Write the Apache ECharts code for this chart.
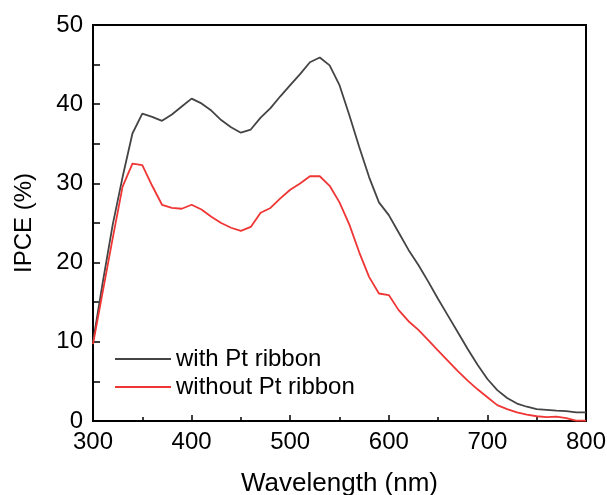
<!DOCTYPE html>
<html>
<head>
<meta charset="utf-8">
<script src="https://cdn.jsdelivr.net/npm/echarts@6/dist/echarts.min.js"></script>
<style>
html, body { margin: 0; padding: 0; background: #fff; }
#chart { width: 607px; height: 495px; }
</style>
</head>
<body>
<div id="chart"></div>
<script>
'use strict';

// wavelength (nm)
var wavelengths = [300, 310, 320, 330, 340, 350, 360, 370, 380, 390,
    400, 410, 420, 430, 440, 450, 460, 470, 480, 490,
    500, 510, 520, 530, 540, 550, 560, 570, 580, 590,
    600, 610, 620, 630, 640, 650, 660, 670, 680, 690,
    700, 710, 720, 730, 740, 750, 760, 770, 780, 790, 800];

// IPCE (%)
var withPt = [10.0, 17.6, 24.8, 30.8, 36.3, 38.8, 38.4, 37.9, 38.7, 39.7,
    40.7, 40.1, 39.2, 38.0, 37.1, 36.4, 36.8, 38.3, 39.5, 41.0,
    42.4, 43.8, 45.3, 45.9, 44.9, 42.4, 38.6, 34.6, 30.8, 27.6,
    26.0, 23.8, 21.6, 19.7, 17.6, 15.4, 13.3, 11.2, 9.1, 7.1,
    5.3, 3.9, 2.9, 2.2, 1.8, 1.5, 1.4, 1.3, 1.25, 1.1, 1.1];

var withoutPt = [9.7, 16.4, 23.1, 29.6, 32.5, 32.3, 29.7, 27.3, 26.9, 26.8,
    27.3, 26.7, 25.8, 25.0, 24.4, 24.0, 24.5, 26.3, 26.9, 28.1,
    29.2, 30.0, 30.9, 30.9, 29.7, 27.6, 24.8, 21.3, 18.2, 16.1,
    15.9, 14.0, 12.6, 11.5, 10.2, 8.9, 7.6, 6.3, 5.1, 4.0,
    3.0, 2.0, 1.5, 1.1, 0.8, 0.6, 0.5, 0.55, 0.35, 0.05, 0.05];

var seriesNames = ['with Pt ribbon', 'without Pt ribbon'];

function pairs(ys) {
    return wavelengths.map(function(x, i) { return [x, ys[i]]; });
}

var font = 'Liberation Sans, Arial, sans-serif';
var myChart = echarts.init(document.getElementById('chart'), null, {renderer: 'canvas'});

var option = {
    animation: false,
    backgroundColor: '#fff',
    textStyle: { fontFamily: font, color: '#000' },
    grid: {
        left: 93, right: 21, top: 25, bottom: 74,
        outerBoundsMode: 'none',
        show: true, borderColor: '#000', borderWidth: 2, backgroundColor: 'transparent'
    },
    legend: {
        orient: 'vertical',
        left: 110, top: 342,
        icon: 'rect',
        itemWidth: 56, itemHeight: 2, itemGap: 4,
        textStyle: { fontFamily: font, fontSize: 24, color: '#000' },
        data: seriesNames
    },
    xAxis: {
        type: 'value', min: 300, max: 800, interval: 100,
        name: 'Wavelength (nm)', nameLocation: 'middle', nameGap: 50,
        nameTextStyle: { fontFamily: font, fontSize: 26, color: '#000' },
        axisLine: { lineStyle: { color: '#000', width: 2 } },
        axisTick: { inside: true, length: 6, lineStyle: { color: '#000', width: 1.5 } },
        minorTick: { show: true, splitNumber: 2, length: 4, lineStyle: { color: '#000', width: 1.5 } },
        axisLabel: { fontFamily: font, fontSize: 24, color: '#000', margin: 9 },
        splitLine: { show: false }
    },
    yAxis: {
        type: 'value', min: 0, max: 50, interval: 10,
        name: 'IPCE (%)', nameLocation: 'middle', nameGap: 57, nameRotate: 90,
        nameTextStyle: { fontFamily: font, fontSize: 24, color: '#000' },
        axisLine: { lineStyle: { color: '#000', width: 2 } },
        axisTick: { inside: true, length: 7, lineStyle: { color: '#000', width: 1.5 } },
        minorTick: { show: true, splitNumber: 2, length: 7, lineStyle: { color: '#000', width: 1.5 } },
        axisLabel: { fontFamily: font, fontSize: 24, color: '#000', margin: 10 },
        splitLine: { show: false }
    },
    series: [
        {
            name: seriesNames[0], type: 'line', symbol: 'none',
            lineStyle: { color: '#444444', width: 1.8 },
            itemStyle: { color: '#444444' },
            data: pairs(withPt)
        },
        {
            name: seriesNames[1], type: 'line', symbol: 'none',
            lineStyle: { color: '#f03535', width: 1.8 },
            itemStyle: { color: '#f03535' },
            data: pairs(withoutPt)
        }
    ]
};

myChart.setOption(option);
</script>
</body>
</html>
